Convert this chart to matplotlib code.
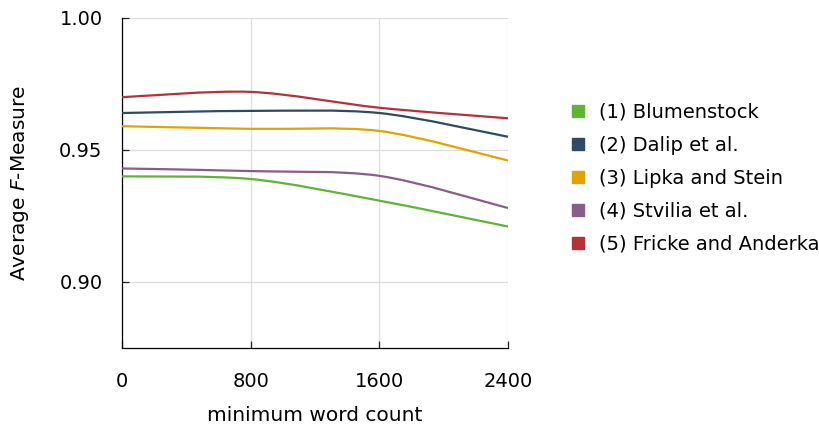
import numpy as np
import matplotlib
matplotlib.use("Agg")
from matplotlib import pyplot as plt
from matplotlib.path import Path
from matplotlib.patches import PathPatch
from matplotlib.lines import Line2D

plt.rcParams['font.family'] = ['DejaVu Sans']
plt.rcParams['mathtext.fontset'] = 'dejavusans'

word_count = [0, 800, 1600, 2400]
blumenstock = [0.9400, 0.9390, 0.9308, 0.9210]
dalip = [0.9640, 0.9648, 0.9640, 0.9550]
lipka = [0.9590, 0.9580, 0.9572, 0.9460]
stvilia = [0.9430, 0.9420, 0.9402, 0.9280]
fricke = [0.9700, 0.9720, 0.9660, 0.9620]

labels = ["(1) Blumenstock", "(2) Dalip et al.", "(3) Lipka and Stein",
          "(4) Stvilia et al.", "(5) Fricke and Anderka"]
colors = ["#5db533", "#2e4a66", "#e2a200", "#8a5c8c", "#b5323a"]
series = [blumenstock, dalip, lipka, stvilia, fricke]


def smooth_path(x, y, tension=0.45):
    # bezier curve through the points, like pgfplots "smooth"
    pts = np.column_stack([x, y]).astype(float)
    n = len(pts)
    verts = [pts[0]]
    codes = [Path.MOVETO]
    for i in range(n - 1):
        p0 = pts[i - 1] if i > 0 else pts[i]
        p1 = pts[i]
        p2 = pts[i + 1]
        p3 = pts[i + 2] if i + 2 < n else pts[i + 1]
        c1 = p1 + (p2 - p0) * tension / 3
        c2 = p2 - (p3 - p1) * tension / 3
        verts += [c1, c2, p2]
        codes += [Path.CURVE4] * 3
    return Path(verts, codes)


fig = plt.figure(figsize=(8.2, 4.28), dpi=100)
ax = fig.add_axes([0.1488, 0.187, 0.4707, 0.771])

for vals, c in zip(series, colors):
    ax.add_patch(PathPatch(smooth_path(word_count, vals), facecolor='none',
                           edgecolor=c, lw=1.6, zorder=3))

ax.set_xlim(0, 2400)
ax.set_ylim(0.875, 1.0)
ax.set_xticks(word_count)
ax.set_yticks([0.90, 0.95, 1.00])
ax.set_yticklabels(["0.90", "0.95", "1.00"])
ax.grid(True, color="#dddddd", lw=0.9)
ax.set_axisbelow(True)
for s in ['top', 'right']:
    ax.spines[s].set_visible(False)
for s in ['left', 'bottom']:
    ax.spines[s].set_linewidth(0.9)
ax.tick_params(direction='in', length=5, width=0.9, labelsize=14, color='#222222')
ax.tick_params(axis='x', pad=17)
ax.tick_params(axis='y', pad=14)

ax.set_xlabel("minimum word count", fontsize=14.5, labelpad=11)
ax.set_ylabel("Average $F$-Measure", fontsize=14.5, labelpad=20)

handles = [Line2D([], [], marker='s', ls='none', color=c, markersize=9) for c in colors]
fig.legend(handles, labels, loc='center left', bbox_to_anchor=(0.672, 0.584),
           frameon=False, fontsize=14, handletextpad=0.55, labelspacing=0.72,
           handlelength=1.0)

fig.savefig("out.png", dpi=100)
